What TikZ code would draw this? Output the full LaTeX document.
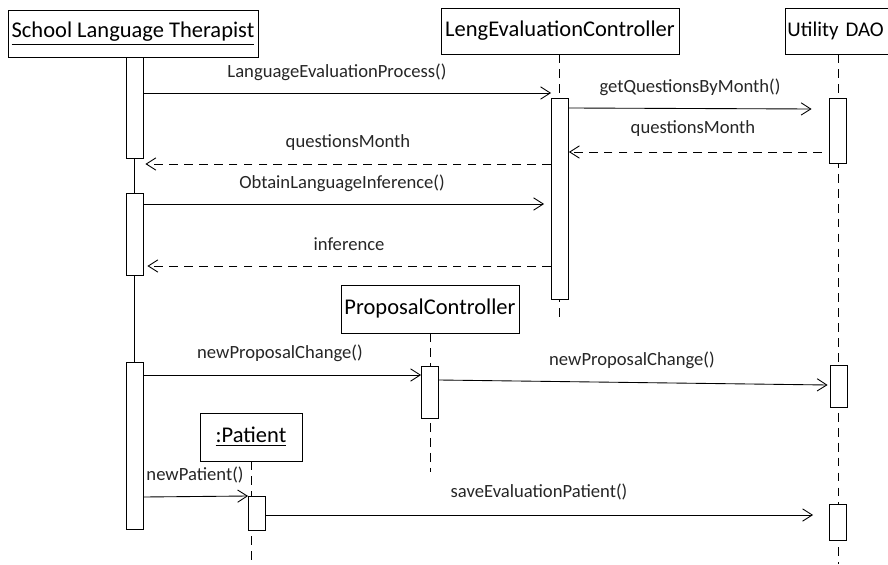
\documentclass[tikz,border=0pt]{standalone}
\usepackage{fontspec}
\setmainfont{Carlito}
\usepackage{tikz}
\usetikzlibrary{arrows.meta}
\usetikzlibrary{calc}
\usetikzlibrary{positioning}

\tikzset{
    head/.style={
        rectangle, draw=black, line width=0.5pt,
        inner sep=0pt, text=black,
        font=\fontsize{12.8}{14}\selectfont,
    },
    actbar/.style={
        rectangle, draw=black, line width=0.5pt, fill=white,
        minimum width=0.34cm, inner sep=0pt, anchor=north,
    },
    lifeline/.style={line width=0.5pt, dash pattern=on 5pt off 3.5pt},
    call/.style={line width=0.5pt, -{Straight Barb[length=5.5pt,width=7pt]}},
    reply/.style={call, dash pattern=on 5pt off 3.5pt},
    msglabel/.style={
        inner sep=0pt, text=black!85,
        font=\fontsize{10.6}{12}\selectfont,
    },
}

\begin{document}
\begin{tikzpicture}[x=0.02cm, y=-0.02cm]
        \useasboundingbox (0,0) rectangle (888,564);

        % objects
        \node (therapist) at(133,33.5) [head,
            minimum width=5cm, minimum height=0.94cm,
        ] {\underline{School Language Therapist}};
        \node (lengctrl) at(560,31) [head,
            minimum width=4.76cm, minimum height=0.92cm,
        ] {LengEvaluationController};
        \node (dao) at(785,31) [head, anchor=west,
            minimum width=2.3cm, minimum height=0.92cm,
            align=left, text width=2.24cm, inner xsep=0.04cm,
            font=\fontsize{11.9}{14}\selectfont,
        ] {Utility DAO};
        \node (propctrl) at(430,309) [head,
            minimum width=3.56cm, minimum height=0.96cm,
        ] {ProposalController};
        \node (patient) at(251,437) [head,
            minimum width=2.04cm, minimum height=0.96cm,
        ] {\underline{:Patient}};

        % lifelines
        \draw[line width=0.5pt] (therapist.south -| 134.5,0) -- (134.5,529);
        \draw[lifeline] (lengctrl.south -| 559.5,0) -- (559.5,323);
        \draw[lifeline] (dao.south -| 838,0) -- (838,564);
        \draw[lifeline] (propctrl.south) -- (430,472);
        \draw[lifeline] (patient.south) -- (251,564);

        % activations
        \node (t1) at(134.5,57) [actbar, minimum height=2.02cm] {};
        \node (t2) at(134.5,193) [actbar, minimum height=1.64cm] {};
        \node (t3) at(134.5,362) [actbar, minimum height=3.34cm] {};
        \node (l1) at(560,98) [actbar, minimum height=4.02cm] {};
        \node (d1) at(837.5,98) [actbar, minimum height=1.3cm] {};
        \node (d2) at(838.5,365) [actbar, minimum height=0.84cm] {};
        \node (d3) at(838,504) [actbar, minimum height=0.72cm] {};
        \node (p1) at(430,366) [actbar, minimum height=1.04cm] {};
        \node (pt1) at(257,496) [actbar, minimum height=0.68cm] {};

        % messages
        \draw[call] (t1.east |- 0,93) -- (l1.west |- 0,93);
        \node (m1) at(337,72) [msglabel] {LanguageEvaluationProcess()};

        \draw[call] (l1.east |- 0,108) -- ($(d1.west |- 0,109)+(-17,0)$);
        \node (m2) at(690,87) [msglabel] {getQuestionsByMonth()};

        \draw[reply] ($(d1.west |- 0,152)+(-7,0)$) -- (l1.east |- 0,152);
        \node (m3) at(693,129) [msglabel] {questionsMonth};

        \draw[reply] (l1.west |- 0,164) -- ($(t1.east |- 0,164)+(2,0)$);
        \node (m4) at(348,143) [msglabel] {questionsMonth};

        \draw[call] (t2.east |- 0,204) -- ($(l1.west |- 0,204)+(-7,0)$);
        \node (m5) at(342,183) [msglabel] {ObtainLanguageInference()};

        \draw[reply] (l1.west |- 0,266) -- ($(t2.east |- 0,266)+(4,0)$);
        \node (m6) at(349,244) [msglabel] {inference};

        \draw[call] (t3.east |- 0,375) -- (p1.west |- 0,375);
        \node (m7) at(280,353) [msglabel] {newProposalChange()};

        \draw[call] (p1.east |- 0,380) -- ($(d2.west |- 0,385)+(-2,0)$);
        \node (m8) at(632,360) [msglabel] {newProposalChange()};

        \draw[call] (t3.east |- 0,497) -- (pt1.west |- 0,496);
        \node (m9) at(195,475) [msglabel] {newPatient()};

        \draw[call] (pt1.east |- 0,515) -- ($(d3.west |- 0,515)+(-16,0)$);
        \node (m10) at(539,492) [msglabel] {saveEvaluationPatient()};
    \end{tikzpicture}
\end{document}
